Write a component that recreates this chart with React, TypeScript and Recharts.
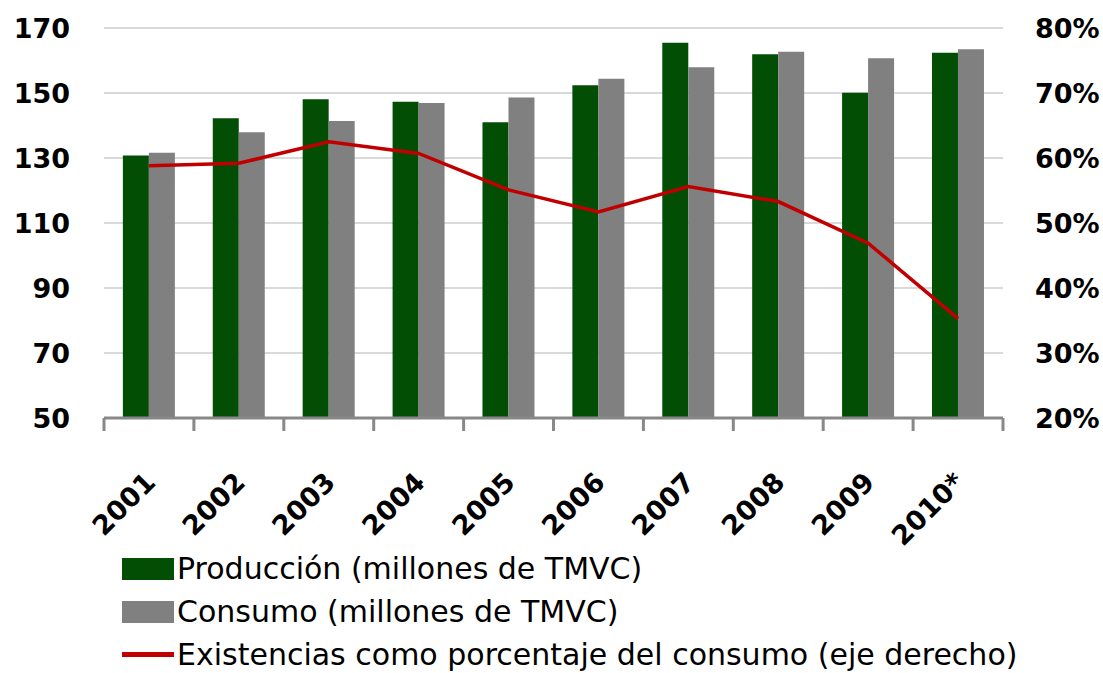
import {
  ComposedChart,
  Bar,
  Line,
  XAxis,
  YAxis,
  CartesianGrid,
  Legend,
} from "recharts";

// Categorías (años)
const years = ["2001", "2002", "2003", "2004", "2005", "2006", "2007", "2008", "2009", "2010*"];

// Producción y consumo, millones de TMVC (eje izquierdo)
const produccion = [130.8, 142.2, 148.1, 147.3, 141.0, 152.4, 165.5, 161.9, 150.1, 162.4];
const consumo = [131.6, 137.9, 141.4, 146.9, 148.6, 154.4, 157.9, 162.7, 160.7, 163.5];

// Existencias como % del consumo (eje derecho)
const existencias = [58.8, 59.2, 62.5, 60.7, 55.1, 51.7, 55.6, 53.3, 46.9, 35.3];

// Marcas de los ejes
const leftTicks = [50, 70, 90, 110, 130, 150, 170];
const rightTicks = [20, 30, 40, 50, 60, 70, 80];

const GREEN = "#034e05";
const GRAY = "#808080";
const RED = "#c00000";
const AXIS = "#888888";
const FONT = "'DejaVu Sans', sans-serif";

const NAME_PROD = "Producción (millones de TMVC)";
const NAME_CONS = "Consumo (millones de TMVC)";
const NAME_EXIS = "Existencias como porcentaje del consumo (eje derecho)";
const legendOrder = [NAME_PROD, NAME_CONS, NAME_EXIS];

const data = years.map((year, i) => ({
  year,
  produccion: produccion[i],
  consumo: consumo[i],
  existencias: existencias[i],
}));

// Etiqueta girada del año + rayitas entre categorías (estilo Excel)
function YearTick({ x, y, payload, index, width, visibleTicksCount }: any) {
  const half = payload.offset || width / visibleTicksCount / 2;
  const isLast = index === visibleTicksCount - 1;
  return (
    <g>
      <line x1={x - half} x2={x - half} y1={y} y2={y + 13} stroke={AXIS} strokeWidth={3} />
      {isLast && (
        <line x1={x + half} x2={x + half} y1={y} y2={y + 13} stroke={AXIS} strokeWidth={3} />
      )}
      <text
        x={0}
        y={0}
        transform={`translate(${x + 8},${y + 66}) rotate(-45)`}
        textAnchor="end"
        fontFamily={FONT}
        fontWeight="bold"
        fontSize={27}
        fill="#000"
      >
        {payload.value}
      </text>
    </g>
  );
}

// Leyenda en tres filas, como en el original
function LegendContent({ payload }: any) {
  const items = [...(payload || [])].sort(
    (a: any, b: any) => legendOrder.indexOf(a.value) - legendOrder.indexOf(b.value)
  );
  return (
    <div style={{ fontFamily: FONT, fontSize: 30, color: "#000" }}>
      {items.map((entry: any) => (
        <div
          key={entry.value}
          style={{ display: "flex", alignItems: "center", height: 43, lineHeight: "43px", whiteSpace: "nowrap" }}
        >
          <span
            style={{
              display: "inline-block",
              width: 52,
              height: entry.type === "line" ? 5 : 22,
              background: entry.color,
              marginRight: 3,
            }}
          />
          <span>{entry.value}</span>
        </div>
      ))}
    </div>
  );
}

export default function App() {
  return (
    <div style={{ position: "absolute", left: 0, top: 0, width: 1103, height: 673, overflow: "hidden", background: "#fff" }}>
      <ComposedChart
        width={1103}
        height={673}
        data={data}
        margin={{ top: 28, right: 0, left: 0, bottom: 0 }}
        barCategoryGap="21%"
        barGap={0}
      >
        <CartesianGrid
          yAxisId="left"
          horizontal
          vertical={false}
          stroke="#d9d9d9"
          strokeWidth={2}
        />
        <XAxis
          dataKey="year"
          height={126}
          interval={0}
          axisLine={{ stroke: AXIS, strokeWidth: 3 }}
          tickLine={false}
          tickSize={0}
          tickMargin={0}
          tick={<YearTick />}
        />
        <YAxis
          yAxisId="left"
          width={104}
          domain={[50, 170]}
          ticks={leftTicks}
          axisLine={false}
          tickLine={false}
          tickSize={0}
          tickMargin={34}
          tick={{ fontFamily: FONT, fontWeight: "bold", fontSize: 27, fill: "#000" }}
        />
        <YAxis
          yAxisId="right"
          orientation="right"
          width={100}
          domain={[20, 80]}
          ticks={rightTicks}
          tickFormatter={(v: number) => `${v}%`}
          axisLine={false}
          tickLine={false}
          tickSize={0}
          tickMargin={32}
          tick={{ fontFamily: FONT, fontWeight: "bold", fontSize: 27, fill: "#000" }}
        />
        <Bar
          yAxisId="left"
          dataKey="produccion"
          name={NAME_PROD}
          fill={GREEN}
          isAnimationActive={false}
        />
        <Bar
          yAxisId="left"
          dataKey="consumo"
          name={NAME_CONS}
          fill={GRAY}
          isAnimationActive={false}
        />
        <Line
          yAxisId="right"
          dataKey="existencias"
          name={NAME_EXIS}
          type="linear"
          stroke={RED}
          strokeWidth={3.5}
          dot={false}
          activeDot={false}
          isAnimationActive={false}
        />
        <Legend
          layout="vertical"
          align="center"
          verticalAlign="bottom"
          content={<LegendContent />}
          wrapperStyle={{ left: 122, top: 547, width: 920 }}
        />
      </ComposedChart>
    </div>
  );
}
